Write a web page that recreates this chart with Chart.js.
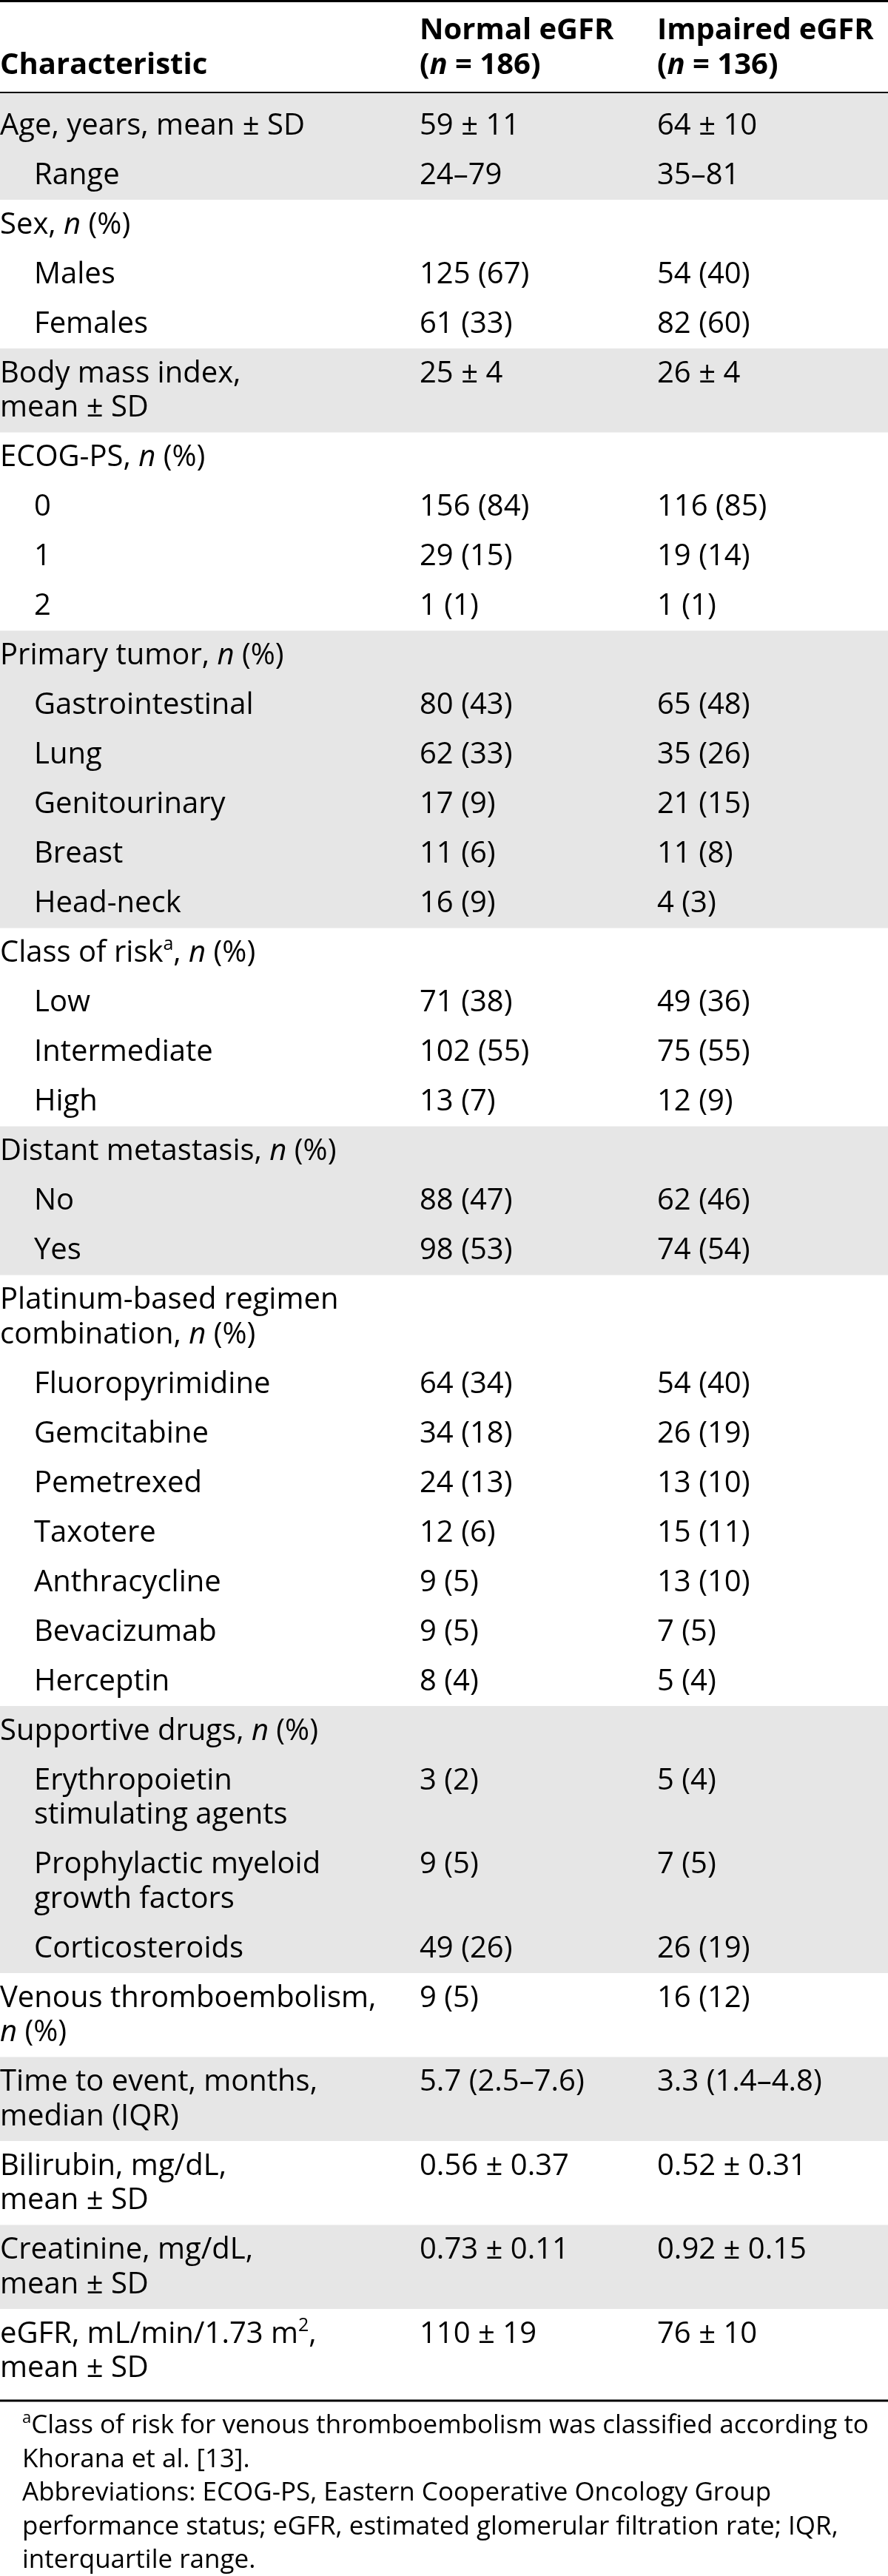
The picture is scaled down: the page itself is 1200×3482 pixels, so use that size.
<!DOCTYPE html>
<html>
<head>
<meta charset="utf-8">
<script src="https://cdn.jsdelivr.net/npm/chart.js@4.4.1/dist/chart.umd.min.js"></script>
<style>
  html, body { margin: 0; padding: 0; background: #fff; }
  #wrap { width: 1200px; height: 3482px; }
</style>
</head>
<body>
<div id="wrap"><canvas id="myTable"></canvas></div>
<script>
// column headings, two lines each (_x_ = italic, ^x^ = superscript)
var headerLines = [
    ['', 'Characteristic'],
    ['Normal eGFR', '(_n_ = 186)'],
    ['Impaired eGFR', '(_n_ = 136)']
];

// row labels, \n marks a line break inside the cell
var characteristic = [
    'Age, years, mean ± SD', 'Range',
    'Sex, _n_ (%)', 'Males', 'Females',
    'Body mass index,\nmean ± SD',
    'ECOG-PS, _n_ (%)', '0', '1', '2',
    'Primary tumor, _n_ (%)', 'Gastrointestinal', 'Lung', 'Genitourinary', 'Breast', 'Head-neck',
    'Class of risk^a^, _n_ (%)', 'Low', 'Intermediate', 'High',
    'Distant metastasis, _n_ (%)', 'No', 'Yes',
    'Platinum-based regimen\ncombination, _n_ (%)', 'Fluoropyrimidine', 'Gemcitabine', 'Pemetrexed',
    'Taxotere', 'Anthracycline', 'Bevacizumab', 'Herceptin',
    'Supportive drugs, _n_ (%)', 'Erythropoietin\nstimulating agents', 'Prophylactic myeloid\ngrowth factors', 'Corticosteroids',
    'Venous thromboembolism,\n_n_ (%)',
    'Time to event, months,\nmedian (IQR)',
    'Bilirubin, mg/dL,\nmean ± SD',
    'Creatinine, mg/dL,\nmean ± SD',
    'eGFR, mL/min/1.73 m^2^,\nmean ± SD'
];

// 0 = main item, 1 = sub item
var level = [0, 1, 0, 1, 1, 0, 0, 1, 1, 1, 0, 1, 1, 1, 1, 1, 0, 1, 1, 1,
    0, 1, 1, 0, 1, 1, 1, 1, 1, 1, 1, 0, 1, 1, 1, 0, 0, 0, 0, 0];

// which block each row belongs to (even blocks are shaded)
var block = [0, 0, 1, 1, 1, 2, 3, 3, 3, 3, 4, 4, 4, 4, 4, 4, 5, 5, 5, 5,
    6, 6, 6, 7, 7, 7, 7, 7, 7, 7, 7, 8, 8, 8, 8, 9, 10, 11, 12, 13];

var normalEGFR = [
    '59 ± 11', '24–79',
    '', '125 (67)', '61 (33)',
    '25 ± 4',
    '', '156 (84)', '29 (15)', '1 (1)',
    '', '80 (43)', '62 (33)', '17 (9)', '11 (6)', '16 (9)',
    '', '71 (38)', '102 (55)', '13 (7)',
    '', '88 (47)', '98 (53)',
    '', '64 (34)', '34 (18)', '24 (13)', '12 (6)', '9 (5)', '9 (5)', '8 (4)',
    '', '3 (2)', '9 (5)', '49 (26)',
    '9 (5)',
    '5.7 (2.5–7.6)',
    '0.56 ± 0.37',
    '0.73 ± 0.11',
    '110 ± 19'
];

var impairedEGFR = [
    '64 ± 10', '35–81',
    '', '54 (40)', '82 (60)',
    '26 ± 4',
    '', '116 (85)', '19 (14)', '1 (1)',
    '', '65 (48)', '35 (26)', '21 (15)', '11 (8)', '4 (3)',
    '', '49 (36)', '75 (55)', '12 (9)',
    '', '62 (46)', '74 (54)',
    '', '54 (40)', '26 (19)', '13 (10)', '15 (11)', '13 (10)', '7 (5)', '5 (4)',
    '', '5 (4)', '7 (5)', '26 (19)',
    '16 (12)',
    '3.3 (1.4–4.8)',
    '0.52 ± 0.31',
    '0.92 ± 0.15',
    '76 ± 10'
];

var footnotes = [
    '^a^Class of risk for venous thromboembolism was classified according to',
    'Khorana et al. [13].',
    'Abbreviations: ECOG-PS, Eastern Cooperative Oncology Group',
    'performance status; eGFR, estimated glomerular filtration rate; IQR,',
    'interquartile range.'
];

// layout (page units = px)
var L = {
    width: 1200, height: 3482,
    colX: [0, 567, 888], indent: 46,
    headBase: [53, 100],
    topRule: [0, 3], headRule: [124, 126], bodyTop: 126,
    firstPad: 10, rowH: 67, lineH: 46.5, baseOff: 45.5, lastPad: 9,
    noteX: 30, noteBase: 3289, noteStep: 45.6,
    font: '"Open Sans"', size: 40, noteSize: 35,
    shade: '#e6e6e6', ink: '#000'
};

// row tops from line counts
var rowTop = [];
var cur = L.bodyTop + L.firstPad;
characteristic.forEach(function (t) {
    rowTop.push(cur);
    cur += L.rowH + L.lineH * (t.split('\n').length - 1);
});
var bodyEnd = cur + L.lastPad;

function cellPoints(texts, c) {
    var pts = [];
    texts.forEach(function (t, i) {
        if (!t) return;
        t.split('\n').forEach(function (line, k) {
            pts.push({
                x: L.colX[c] + (c === 0 ? level[i] * L.indent : 0),
                y: rowTop[i] + L.baseOff + k * L.lineH,
                t: line
            });
        });
    });
    return pts;
}

var headPoints = [];
headerLines.forEach(function (lines, c) {
    lines.forEach(function (line, k) {
        if (line) headPoints.push({ x: L.colX[c], y: L.headBase[k], t: line });
    });
});
var notePoints = footnotes.map(function (t, k) {
    return { x: L.noteX, y: L.noteBase + k * L.noteStep, t: t };
});

function drawRich(ctx, str, x, y, size, weight) {
    str.split(/(_[^_]+_|\^[^\^]+\^)/).forEach(function (p) {
        if (!p) return;
        var style = 'normal', sz = size, dy = 0, txt = p;
        if (p[0] === '_') { style = 'italic'; txt = p.slice(1, -1); }
        else if (p[0] === '^') { sz = Math.round(size * 0.62); dy = -size * 0.4; txt = p.slice(1, -1); }
        ctx.font = style + ' ' + weight + ' ' + sz + 'px ' + L.font;
        ctx.fillText(txt, x, y + dy);
        x += ctx.measureText(txt).width;
    });
}

// shaded blocks and rules, drawn through the scales
var tablePlugin = {
    id: 'tablePlugin',
    beforeDatasetsDraw: function (chart) {
        var ctx = chart.ctx, xs = chart.scales.x, ys = chart.scales.y;
        var x0 = xs.getPixelForValue(0), x1 = xs.getPixelForValue(L.width);
        ctx.save();
        var nBlocks = block[block.length - 1] + 1;
        for (var b = 0; b < nBlocks; b += 2) {
            var first = block.indexOf(b), next = block.indexOf(b + 1);
            var top = b === 0 ? L.bodyTop : rowTop[first];
            var bot = next < 0 ? bodyEnd : rowTop[next];
            var py0 = ys.getPixelForValue(top), py1 = ys.getPixelForValue(bot);
            ctx.fillStyle = L.shade;
            ctx.fillRect(x0, py0, x1 - x0, py1 - py0);
        }
        ctx.fillStyle = L.ink;
        [L.topRule, L.headRule, [bodyEnd, bodyEnd + 3]].forEach(function (r) {
            var a = ys.getPixelForValue(r[0]), z = ys.getPixelForValue(r[1]);
            ctx.fillRect(x0, a, x1 - x0, z - a);
        });
        ctx.restore();
    },
    afterDatasetsDraw: function (chart) {
        var ctx = chart.ctx;
        ctx.save();
        ctx.fillStyle = L.ink;
        ctx.textBaseline = 'alphabetic';
        ctx.textAlign = 'left';
        chart.data.datasets.forEach(function (ds, d) {
            var meta = chart.getDatasetMeta(d);
            meta.data.forEach(function (el, j) {
                drawRich(ctx, ds.data[j].t, el.x, el.y, ds.textSize, ds.textWeight);
            });
        });
        ctx.restore();
    }
};

var ctx = document.getElementById('myTable').getContext('2d');
var chart = new Chart(ctx, {
    type: 'scatter',
    data: {
        datasets: [
            { label: 'header', data: headPoints, textSize: L.size, textWeight: 'bold' },
            { label: 'Characteristic', data: cellPoints(characteristic, 0), textSize: L.size, textWeight: 'normal' },
            { label: 'Normal eGFR', data: cellPoints(normalEGFR, 1), textSize: L.size, textWeight: 'normal' },
            { label: 'Impaired eGFR', data: cellPoints(impairedEGFR, 2), textSize: L.size, textWeight: 'normal' },
            { label: 'notes', data: notePoints, textSize: L.noteSize, textWeight: 'normal' }
        ]
    },
    options: {
        responsive: true,
        maintainAspectRatio: false,
        animation: false,
        events: [],
        layout: { padding: 0 },
        elements: { point: { radius: 0, hoverRadius: 0 } },
        scales: {
            x: { type: 'linear', min: 0, max: L.width, display: false },
            y: { type: 'linear', min: 0, max: L.height, reverse: true, display: false }
        },
        plugins: { legend: { display: false }, tooltip: { enabled: false } }
    },
    plugins: [tablePlugin]
});
</script>
</body>
</html>
